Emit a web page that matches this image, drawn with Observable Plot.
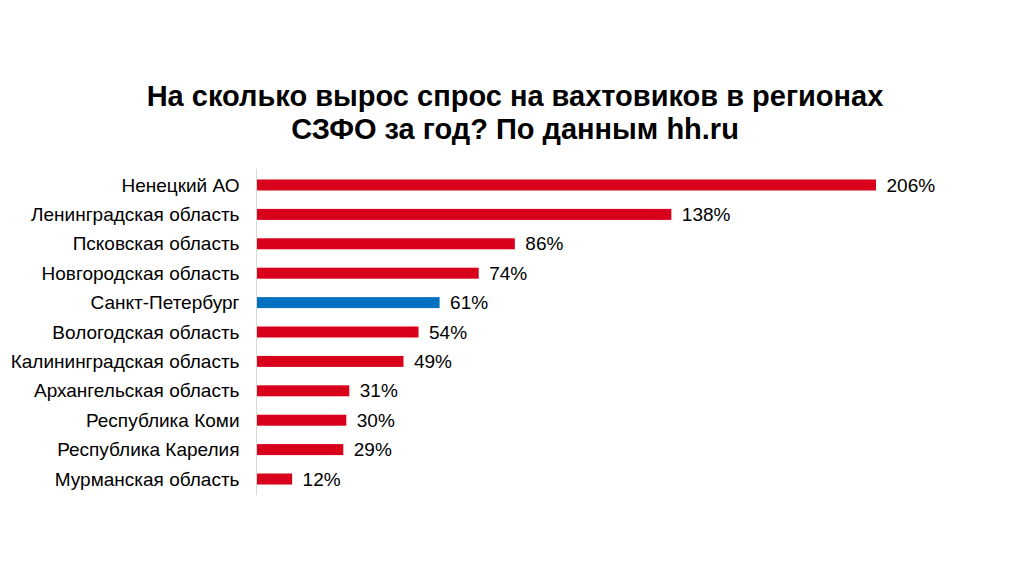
<!DOCTYPE html>
<html>
<head>
<meta charset="utf-8">
<script src="https://cdn.jsdelivr.net/npm/d3@7"></script>
<script src="https://cdn.jsdelivr.net/npm/@observablehq/plot@0.6"></script>
<style>
  html, body { margin: 0; padding: 0; background: #fff; }
  #wrap { width: 1030px; height: 579px; overflow: hidden; font-family: "Liberation Sans", Arial, sans-serif; }
  #title { height: 152px; box-sizing: border-box; padding-top: 80px; text-align: center; font-weight: bold; font-size: 29px; line-height: 33px; color: #000; }
</style>
</head>
<body>
<div id="wrap">
  <div id="title">На сколько вырос спрос на вахтовиков в регионах<br>СЗФО за год? По данным hh.ru</div>
  <div id="chart"></div>
</div>
<script>
const regions = ["Ненецкий АО", "Ленинградская область", "Псковская область", "Новгородская область", "Санкт-Петербург", "Вологодская область", "Калининградская область", "Архангельская область", "Республика Коми", "Республика Карелия", "Мурманская область"];
const growth = [206, 138, 86, 74, 61, 54, 49, 31, 30, 29, 12];
const highlight = "Санкт-Петербург";

const data = regions.map((r, i) => ({region: r, value: growth[i]}));

const chart = Plot.plot({
  width: 1030,
  height: 427,
  marginTop: 17,
  marginBottom: 84,
  marginLeft: 256,
  marginRight: 154,
  style: {fontFamily: "'Liberation Sans', Arial, sans-serif", fontSize: "19px", color: "#000", background: "#fff"},
  x: {domain: [0, 206], axis: null},
  y: {domain: regions, paddingInner: 0.626, paddingOuter: 0.357, round: false, label: null, tickSize: 0, tickPadding: 17},
  marks: [
    Plot.barX(data, {x: "value", y: "region", fill: d => d.region === highlight ? "#0070c0" : "#d9001b"}),
    Plot.ruleX([0], {stroke: "#d9d9d9", strokeWidth: 1}),
    Plot.text(data, {x: "value", y: "region", text: d => d.value + "%", textAnchor: "start", dx: 10, fontSize: 19, fill: "#000"}),
    Plot.axisY({tickSize: 0, tickPadding: 17, fontSize: 19, label: null})
  ]
});
document.getElementById("chart").appendChild(chart);
</script>
</body>
</html>
